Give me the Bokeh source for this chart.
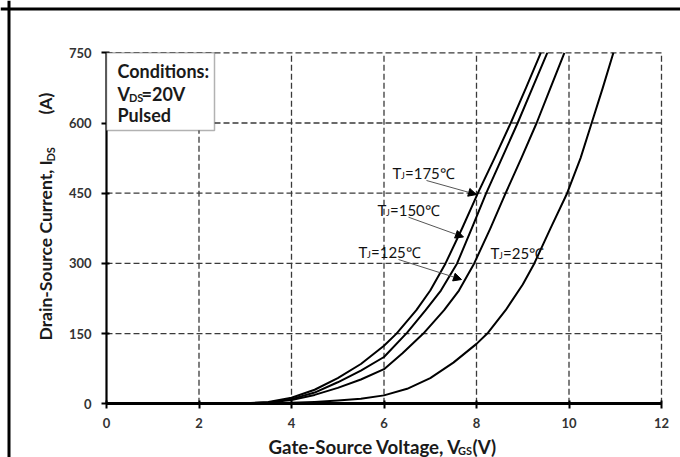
import math
from bokeh.plotting import figure
from bokeh.models import (FixedTicker, BoxAnnotation, Label, Arrow, NormalHead, Range1d, Span)
from bokeh.embed import file_html
from bokeh.resources import INLINE

# Transfer characteristics: drain-source current vs gate-source voltage (V_DS = 20 V, pulsed)
vgs_175 = [2.5, 3.0, 3.5, 4.0, 4.5, 5.0, 5.5, 6.0, 6.27, 6.7, 7.0, 7.33, 7.69, 8.03, 8.39, 8.74, 9.07, 9.39]
ids_175 = [0, 1, 4, 13, 30, 55, 85, 124, 150, 200, 242, 300, 375, 450, 525, 600, 675, 750]

vgs_150 = [2.6, 3.0, 3.5, 4.0, 4.5, 5.0, 5.5, 6.0, 6.5, 6.9, 7.23, 7.58, 7.92, 8.21, 8.55, 8.89, 9.21, 9.53]
ids_150 = [0, 1, 3, 10, 24, 46, 71, 100, 152, 200, 242, 300, 380, 450, 525, 600, 675, 750]

vgs_125 = [2.7, 3.0, 3.5, 4.0, 4.5, 5.0, 5.5, 6.0, 6.4, 6.85, 7.3, 7.62, 7.95, 8.3, 8.63, 8.97, 9.3, 9.6, 9.9]
ids_125 = [0, 0.5, 2.5, 8, 19, 34, 52, 74, 108, 150, 200, 242, 300, 375, 450, 525, 600, 675, 750]

vgs_25 = [3.5, 4.0, 4.5, 5.0, 5.5, 6.0, 6.5, 7.0, 7.5, 8.0, 8.25, 8.63, 9.0, 9.25, 9.6, 9.96, 10.25, 10.49, 10.73, 10.96]
ids_25 = [0, 2, 4, 7, 11, 18, 32, 55, 88, 128, 152, 200, 255, 300, 375, 450, 525, 600, 675, 750]

x_ticks = [0, 2, 4, 6, 8, 10, 12]
y_ticks = [0, 150, 300, 450, 600, 750]

W, H = 680, 457
# canvas pixels of the chart area: V_GS 0..12 and I_DS 0..750
AX_LEFT, AX_RIGHT, AX_TOP, AX_BOTTOM = 106.0, 661.0, 52.3, 403.3
X_MAX, Y_MAX = 12, 750

FONT = "Lato"
GRID = "#3a3a3a"


def dx(px):
    """Canvas pixel column -> V_GS value."""
    return (px - AX_LEFT) / (AX_RIGHT - AX_LEFT) * X_MAX


def dy(py):
    """Canvas pixel row -> I_DS value."""
    return (AX_BOTTOM - py) / (AX_BOTTOM - AX_TOP) * Y_MAX


# the frame fills the whole canvas; axes are pinned at V_GS = 0 and I_DS = 0
p = figure(width=W, height=H, title=None,
           x_range=Range1d(dx(0), dx(W)), y_range=Range1d(dy(H), dy(0)),
           output_backend="svg", toolbar_location=None,
           min_border_left=0, min_border_right=0, min_border_top=0, min_border_bottom=0)
p.background_fill_color = "white"
p.border_fill_color = "white"
p.outline_line_color = None
p.xgrid.visible = False
p.ygrid.visible = False

# dashed grid, bounded to the chart area
p.segment(x0=x_ticks[1:], x1=x_ticks[1:], y0=[0] * (len(x_ticks) - 1), y1=[Y_MAX] * (len(x_ticks) - 1),
          line_color=GRID, line_dash="6 3", line_width=1.3)
p.segment(x0=[0] * (len(y_ticks) - 1), x1=[X_MAX] * (len(y_ticks) - 1), y0=y_ticks[1:], y1=y_ticks[1:],
          line_color=GRID, line_dash="6 3", line_width=1.3)

# axes
p.xaxis.ticker = FixedTicker(ticks=x_ticks)
p.yaxis.ticker = FixedTicker(ticks=y_ticks)
p.xaxis.fixed_location = 0
p.yaxis.fixed_location = 0
p.xaxis.bounds = (0, X_MAX)
p.yaxis.bounds = (0, Y_MAX)
for ax, lw in ((p.xaxis, 3), (p.yaxis, 2.2)):
    ax.axis_line_width = lw
    ax.axis_line_color = "black"
    ax.major_tick_line_width = 2
    ax.major_tick_line_color = "black"
    ax.major_tick_in = 3
    ax.major_tick_out = 5
    ax.minor_tick_line_color = None
    ax.major_label_text_font = FONT
    ax.major_label_text_font_style = "bold"
    ax.major_label_text_font_size = "13px"
    ax.major_label_text_color = "#333333"
    ax.axis_label = None
p.xaxis.major_label_standoff = 9
p.yaxis.major_label_standoff = 10

# curves
for xs, ys in ((vgs_175, ids_175), (vgs_150, ids_150), (vgs_125, ids_125), (vgs_25, ids_25)):
    p.line(xs, ys, line_color="black", line_width=2, line_join="round")


def add_text(px, py, text, size="14px", style="bold", angle=0.0, align="left", color="#1a1a1a"):
    p.add_layout(Label(x=dx(px), y=dy(py), text=text, text_font=FONT, text_font_size=size,
                       text_font_style=style, text_align=align, text_baseline="middle",
                       angle=angle, text_color=color))


# conditions box
p.add_layout(BoxAnnotation(left=0, right=dx(214), top=Y_MAX, bottom=dy(130),
                           fill_color="white", fill_alpha=1, line_color="black", line_width=1.5))
add_text(117, 70.5, "Conditions:", size="18px")
add_text(117, 93, "V", size="18px")
add_text(128.5, 96.5, "DS", size="11px")
add_text(141, 93, "=20V", size="18px")
add_text(117, 114, "Pulsed", size="18px")

# temperature labels
for (tx, ty, temp) in ((392, 172, "175"), (377, 209, "150"), (358, 251, "125"), (490, 252, "25")):
    add_text(tx, ty, "T", size="15px", style="normal", color="#111111")
    add_text(tx + 8.5, ty + 3, "J", size="9px", style="normal", color="#111111")
    add_text(tx + 12.5, ty, "=" + temp + "\u2103", size="15px", style="normal", color="#111111")

for (x0, y0, x1, y1) in ((426, 180, 476, 194), (408, 216.7, 463, 236.5), (398, 259, 461, 279)):
    p.add_layout(Arrow(end=NormalHead(size=8, fill_color="black", line_color="black", line_width=1),
                       x_start=dx(x0), y_start=dy(y0), x_end=dx(x1), y_end=dy(y1),
                       line_color="#555555", line_width=1))

# axis titles
add_text(268, 446, "Gate-Source Voltage, V", size="18.7px")
add_text(457.5, 450, "GS", size="11px")
add_text(472, 446, "(V)", size="18.7px")

vertical = math.pi / 2
add_text(45, 340, "Drain-Source Current, I", size="17.5px", angle=vertical)
add_text(49.5, 161, "DS", size="11px", angle=vertical)
add_text(45, 114, "(A)", size="17.5px", angle=vertical)

# outer frame
p.add_layout(Span(location=dx(8.5), dimension="height", line_color="black", line_width=3))
p.add_layout(Span(location=dy(8.5), dimension="width", line_color="black", line_width=3))

open("out.html", "w").write(file_html(p, INLINE))
